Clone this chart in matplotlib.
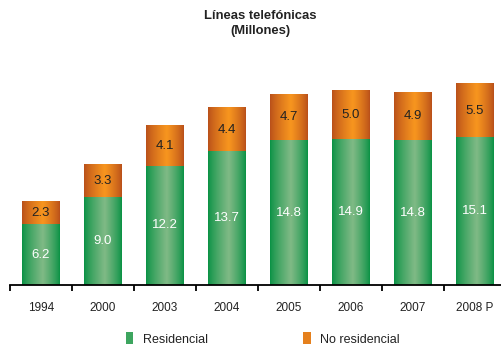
import numpy as np
import matplotlib
matplotlib.use("Agg")
import matplotlib.pyplot as plt
from matplotlib.patches import Patch
from matplotlib.colors import to_rgb

plt.rcParams['font.family'] = ['Liberation Sans', 'DejaVu Sans']

years = ['1994', '2000', '2003', '2004', '2005', '2006', '2007', '2008 P']
residencial = [6.2, 9.0, 12.2, 13.7, 14.8, 14.9, 14.8, 15.1]
no_residencial = [2.3, 3.3, 4.1, 4.4, 4.7, 5.0, 4.9, 5.5]


def cylinder(edge, mid, n=64, peak=0.55):
    # horizontal gradient: dark edges, light band a bit right of centre
    e, m = np.array(to_rgb(edge)), np.array(to_rgb(mid))
    t = np.linspace(0, 1, n)
    w = np.where(t < peak, t / peak, (1 - t) / (1 - peak))
    w = np.clip(w, 0, 1) ** 0.8
    return (e[None, :] * (1 - w[:, None]) + m[None, :] * w[:, None])[None, :, :]


green_grad = cylinder('#0a9245', '#80ba86')
orange_grad = cylinder('#b9501a', '#f8961f')

fig = plt.figure(figsize=(5.02, 3.47), dpi=100)
ax = fig.add_axes([10 / 502, 62 / 347, 496 / 502, 215 / 347])

x = np.arange(len(years))
width = 0.61
b1 = ax.bar(x, residencial, width, color='#2fa257', zorder=1)
b2 = ax.bar(x, no_residencial, width, bottom=residencial, color='#e07a1c', zorder=1)

for bars, grad in ((b1, green_grad), (b2, orange_grad)):
    for r in bars:
        x0, y0 = r.get_x(), r.get_y()
        ax.imshow(grad, extent=[x0, x0 + r.get_width(), y0, y0 + r.get_height()],
                  aspect='auto', interpolation='bilinear', zorder=2)

for i in range(len(years)):
    ax.text(x[i], residencial[i] / 2, f'{residencial[i]:.1f}', ha='center', va='center',
            color='white', fontsize=9.5, zorder=3)
    ax.text(x[i], residencial[i] + no_residencial[i] / 2, f'{no_residencial[i]:.1f}',
            ha='center', va='center', color='#222222', fontsize=9.5, zorder=3)

ax.set_xlim(-0.5, len(years) - 0.5)
ax.set_ylim(0, 22)
for s in ('top', 'right', 'left'):
    ax.spines[s].set_visible(False)
ax.spines['bottom'].set_linewidth(1.3)
ax.set_yticks([])
ax.set_xticks(np.arange(len(years) + 1) - 0.5)
ax.set_xticklabels([])
ax.set_xticks(x, minor=True)
ax.set_xticklabels(years, minor=True)
ax.tick_params(axis='x', which='major', direction='out', length=4, width=1.3)
ax.tick_params(axis='x', which='minor', length=0, pad=12, labelsize=8.5, labelcolor='#222222')

fig.text(0.518, 0.955, 'Líneas telefónicas', ha='center', va='center',
         fontsize=9.4, fontweight='bold', color='#222222')
fig.text(0.518, 0.91, '(Millones)', ha='center', va='center',
         fontsize=9.4, fontweight='bold', color='#222222')

handles = [Patch(facecolor='#3da55f', edgecolor='none'),
           Patch(facecolor='#e5801d', edgecolor='none')]
fig.legend(handles, ['Residencial', 'No residencial'], ncol=2, frameon=False,
           loc='center left', bbox_to_anchor=(118 / 502, 1 - 339 / 347),
           fontsize=9, handlelength=0.6, handleheight=1.1, handletextpad=0.8,
           columnspacing=7.6, labelcolor='#222222', borderpad=0.1)

fig.savefig('out.png', dpi=100)
